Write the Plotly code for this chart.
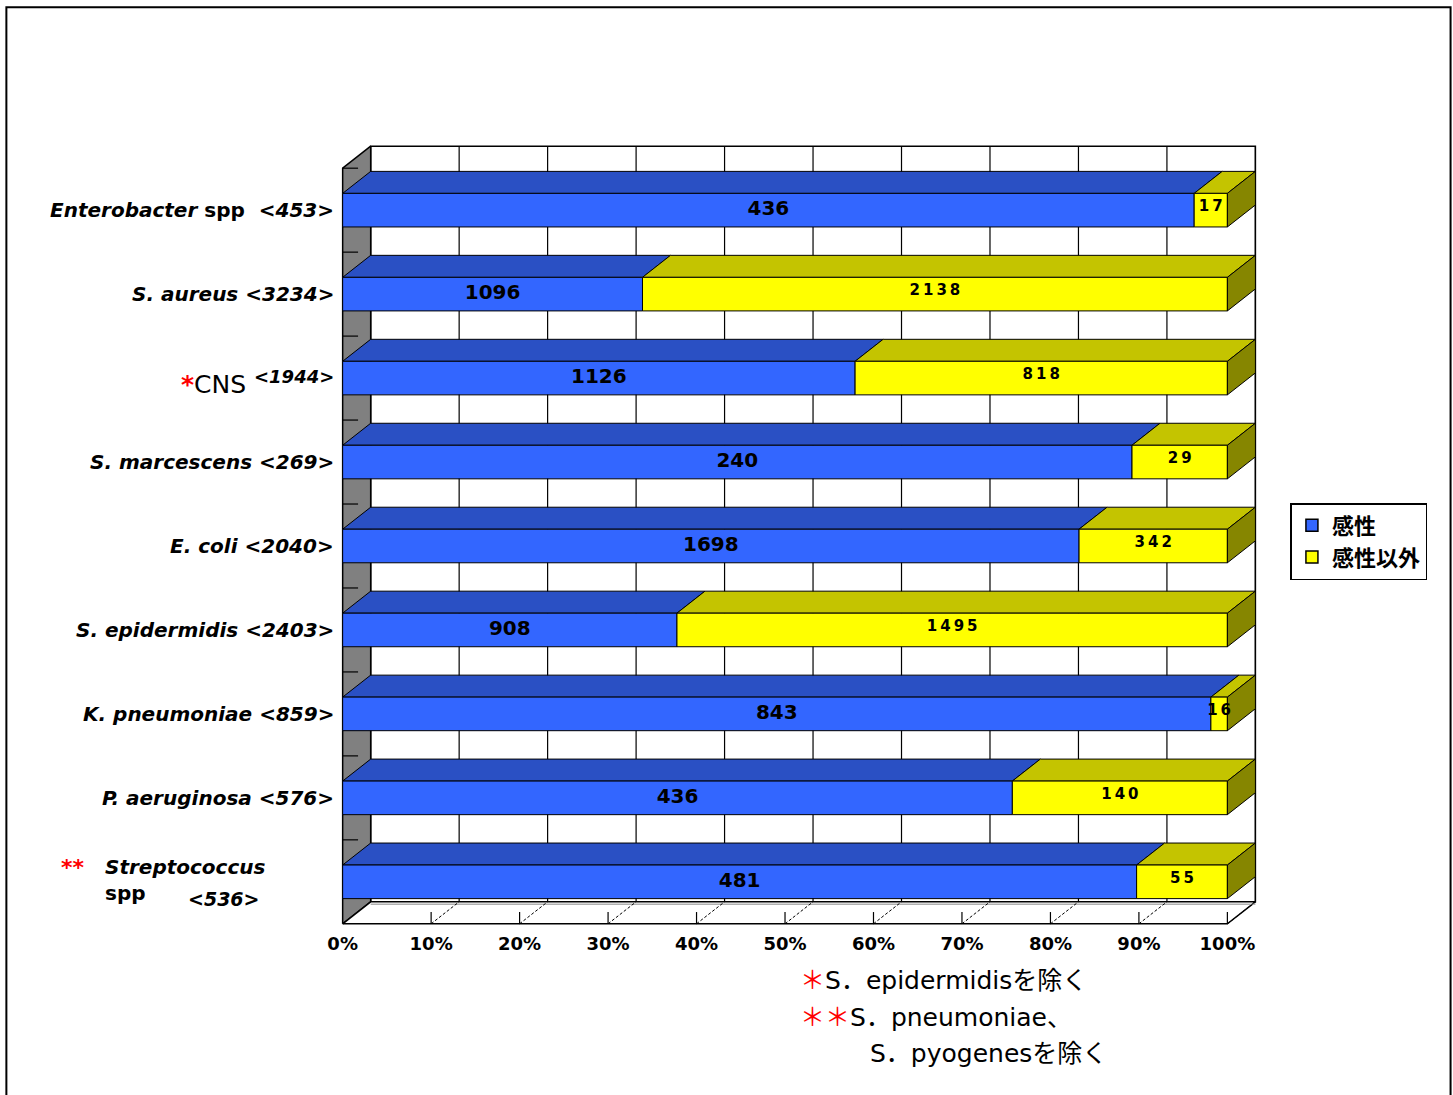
import plotly.graph_objects as go

# ---------------- data ----------------
genus = ["Enterobacter", "S. aureus", "CNS", "S. marcescens", "E. coli",
         "S. epidermidis", "K. pneumoniae", "P. aeruginosa", "Streptococcus"]
suffix = ["spp", "", "", "", "", "", "", "", "spp"]
marks = ["", "", "*", "", "", "", "", "", "**"]
susceptible = [436, 1096, 1126, 240, 1698, 908, 843, 436, 481]
non_susceptible = [17, 2138, 818, 29, 342, 1495, 16, 140, 55]
series_names = ["感性", "感性以外"]
x_ticks = [0, 10, 20, 30, 40, 50, 60, 70, 80, 90, 100]
notes = ["S．epidermidisを除く", "S．pneumoniae、", "S．pyogenesを除く"]

# ---------------- styling / geometry ----------------
W, H = 1453, 1095
PX_X = 8.84          # pixels per percent
PX_Y = 84.0          # pixels per category step
DX = 28 / PX_X       # depth offset, x units
DY = 22 / PX_Y       # depth offset, y units
HALF = 0.2           # half bar thickness
X_RANGE = [-0.3, 103.8]
Y_RANGE = [-0.55, 8.8]
ORIGIN_X = 343
ORIGIN_Y = 882

plot_l = ORIGIN_X + X_RANGE[0] * PX_X
plot_w = (X_RANGE[1] - X_RANGE[0]) * PX_X
plot_t = ORIGIN_Y - Y_RANGE[1] * PX_Y
plot_h = (Y_RANGE[1] - Y_RANGE[0]) * PX_Y


def paper_x(px):
    return (px - plot_l) / plot_w


def paper_y(py):
    return (plot_t + plot_h - py) / plot_h


BLUE_FRONT = "#3366FF"
BLUE_TOP = "#2A50C4"
YEL_FRONT = "#FFFF00"
YEL_TOP = "#C4C400"
YEL_SIDE = "#868600"
WALL = "#808080"
LABEL_FONT = "DejaVu Sans"
CJK_FONT = "Noto Sans CJK JP"
NOTE_FONT = "DejaVu Sans, Noto Sans CJK JP"

n = len(susceptible)
ypos = [n - 1 - i for i in range(n)]
totals = [s + u for s, u in zip(susceptible, non_susceptible)]
pct_s = [s / t * 100 for s, t in zip(susceptible, totals)]

Y_LO = -0.5
Y_HI = n - 0.5


def add_poly(xs, ys, pts):
    for px, py in pts:
        xs.append(px)
        ys.append(py)
    xs.append(pts[0][0])
    ys.append(pts[0][1])
    xs.append(None)
    ys.append(None)


def poly_trace(xs, ys, fill, width=1, dash="solid"):
    return go.Scatter(x=xs, y=ys, mode="lines", fill="toself", fillcolor=fill,
                      line=dict(color="black", width=width, dash=dash),
                      hoverinfo="skip", showlegend=False)


def line_trace(xs, ys, width=1, dash="solid", color="black"):
    return go.Scatter(x=xs, y=ys, mode="lines",
                      line=dict(color=color, width=width, dash=dash),
                      hoverinfo="skip", showlegend=False)


fig = go.Figure()

# back wall
bx, by = [], []
add_poly(bx, by, [(DX, Y_LO + DY), (100 + DX, Y_LO + DY),
                  (100 + DX, Y_HI + DY), (DX, Y_HI + DY)])
fig.add_trace(poly_trace(bx, by, "white", width=1.5))

# vertical gridlines on the back wall
gx, gy = [], []
for t in x_ticks[1:]:
    gx += [t + DX, t + DX, None]
    gy += [Y_LO + DY, Y_HI + DY, None]
fig.add_trace(line_trace(gx, gy, width=1.2))

# left side wall
lx, ly = [], []
add_poly(lx, ly, [(0, Y_LO), (0, Y_HI), (DX, Y_HI + DY), (DX, Y_LO + DY)])
fig.add_trace(poly_trace(lx, ly, WALL, width=1.5))

# category ticks on the side wall
tx, ty = [], []
for k in range(n):
    tx += [0, DX * 0.55, None]
    ty += [k + 0.5, k + 0.5, None]
fig.add_trace(line_trace(tx, ty, width=1.2))

# floor
fx, fy = [], []
add_poly(fx, fy, [(0, Y_LO), (100, Y_LO), (100 + DX, Y_LO + DY), (DX, Y_LO + DY)])
fig.add_trace(poly_trace(fx, fy, "white", width=1.5))
# soft second edge along the back of the floor
fig.add_trace(line_trace([DX, 100 + DX], [Y_LO + DY - 0.03, Y_LO + DY - 0.03],
                         width=1.5, color="#B0B0B0"))

# floor ticks and receding dashed lines
vx, vy, dxs, dys = [], [], [], []
for t in x_ticks[1:]:
    vx += [t, t, None]
    vy += [Y_LO, Y_LO + 0.14, None]
    dxs += [t, t + DX, None]
    dys += [Y_LO, Y_LO + DY, None]
fig.add_trace(line_trace(vx, vy, width=1.2))
fig.add_trace(line_trace(dxs, dys, width=1, dash="3px,2px"))

# bars: top faces, front faces, side faces
top_b = ([], [])
top_y = ([], [])
front_b = ([], [])
front_y = ([], [])
side_y = ([], [])
for i in range(n):
    y = ypos[i]
    segs = [(0, pct_s[i], top_b, front_b), (pct_s[i], 100, top_y, front_y)]
    for x0, x1, top, front in segs:
        add_poly(top[0], top[1], [(x0, y + HALF), (x1, y + HALF),
                                  (x1 + DX, y + HALF + DY), (x0 + DX, y + HALF + DY)])
        add_poly(front[0], front[1], [(x0, y - HALF), (x1, y - HALF),
                                      (x1, y + HALF), (x0, y + HALF)])
    add_poly(side_y[0], side_y[1], [(100, y - HALF), (100 + DX, y - HALF + DY),
                                    (100 + DX, y + HALF + DY), (100, y + HALF)])

fig.add_trace(poly_trace(*top_b, BLUE_TOP))
fig.add_trace(poly_trace(*top_y, YEL_TOP))
fig.add_trace(poly_trace(*front_b, BLUE_FRONT))
fig.add_trace(poly_trace(*front_y, YEL_FRONT))
fig.add_trace(poly_trace(*side_y, YEL_SIDE))

# value labels
fig.add_trace(go.Scatter(
    x=[p / 2 for p in pct_s], y=ypos, mode="text",
    text=[str(v) for v in susceptible],
    textfont=dict(family=LABEL_FONT, size=20, color="black", weight="bold"),
    hoverinfo="skip", showlegend=False))
fig.add_trace(go.Scatter(
    x=[(p + 100) / 2 for p in pct_s], y=[v + 0.035 for v in ypos], mode="text",
    text=["\u2009".join(str(v)) for v in non_susceptible],
    textfont=dict(family=LABEL_FONT, size=15, color="black", weight="bold"),
    hoverinfo="skip", showlegend=False))

# legend entries
for name, col in zip(series_names, [BLUE_FRONT, YEL_FRONT]):
    fig.add_trace(go.Bar(x=[None], y=[None], orientation="h", name=name,
                         marker=dict(color=col, line=dict(color="black", width=1.5))))

# category labels
annotations = []
label_x = paper_x(336)
for i in range(n):
    y = ypos[i]
    count = f"&lt;{totals[i]}&gt;"
    if marks[i] == "*":
        annotations.append(dict(
            x=label_x, y=y, xref="paper", yref="y", xanchor="right", yanchor="middle",
            yshift=2, showarrow=False, text=f"<b><i>{count}</i></b>",
            font=dict(family=LABEL_FONT, size=18, color="black")))
        annotations.append(dict(
            x=paper_x(248), y=y, xref="paper", yref="y", xanchor="right", yanchor="middle",
            yshift=-6, showarrow=False,
            text=f"<span style='color:red'><b>{marks[i]}</b></span>{genus[i]}",
            font=dict(family=LABEL_FONT, size=25, color="black")))
    elif marks[i] == "**":
        annotations.append(dict(
            x=paper_x(60), y=y, xref="paper", yref="y", xanchor="left", yanchor="middle",
            yshift=14, showarrow=False, text=f"<b>{marks[i]}</b>",
            font=dict(family=LABEL_FONT, size=22, color="red")))
        annotations.append(dict(
            x=paper_x(104), y=y, xref="paper", yref="y", xanchor="left", yanchor="middle",
            yshift=2, showarrow=False, align="left",
            text=f"<b><i>{genus[i]}</i><br>{suffix[i]}</b>",
            font=dict(family=LABEL_FONT, size=20, color="black")))
        annotations.append(dict(
            x=paper_x(186), y=y, xref="paper", yref="y", xanchor="left", yanchor="middle",
            yshift=-17, showarrow=False, text=f"<b><i>{count}</i></b>",
            font=dict(family=LABEL_FONT, size=19, color="black")))
    else:
        sfx = f" {suffix[i]}\u00a0" if suffix[i] else ""
        annotations.append(dict(
            x=label_x, y=y, xref="paper", yref="y", xanchor="right", yanchor="middle",
            showarrow=False, text=f"<b><i>{genus[i]}</i>{sfx} <i>{count}</i></b>",
            font=dict(family=LABEL_FONT, size=20, color="black")))

# footnotes
note_font = dict(family=NOTE_FONT, size=25, color="black")
annotations.append(dict(
    x=paper_x(798), y=paper_y(981), xref="paper", yref="paper", xanchor="left",
    yanchor="middle", showarrow=False, font=note_font,
    text=f"<span style='color:red'>＊</span>{notes[0]}"))
annotations.append(dict(
    x=paper_x(798), y=paper_y(1018), xref="paper", yref="paper", xanchor="left",
    yanchor="middle", showarrow=False, font=note_font,
    text=f"<span style='color:red'>＊＊</span>{notes[1]}"))
annotations.append(dict(
    x=paper_x(868), y=paper_y(1054), xref="paper", yref="paper", xanchor="left",
    yanchor="middle", showarrow=False, font=note_font, text=notes[2]))

fig.update_layout(
    width=W, height=H,
    margin=dict(l=plot_l, r=W - plot_l - plot_w, t=plot_t, b=H - plot_t - plot_h, pad=0),
    paper_bgcolor="white", plot_bgcolor="rgba(0,0,0,0)",
    showlegend=True,
    legend=dict(x=paper_x(1290), y=paper_y(503), xanchor="left", yanchor="top",
                bgcolor="white", bordercolor="black", borderwidth=1.5,
                font=dict(family=CJK_FONT, size=22, color="black", weight="bold"),
                traceorder="normal", tracegroupgap=2),
    annotations=annotations,
    shapes=[dict(type="rect", xref="paper", yref="paper",
                 x0=paper_x(7), x1=paper_x(1450), y0=paper_y(1102), y1=paper_y(7),
                 line=dict(color="black", width=2), fillcolor="rgba(0,0,0,0)")],
)
fig.update_xaxes(type="linear", range=X_RANGE, tickvals=x_ticks,
                 ticktext=[f"{t}%" for t in x_ticks], showgrid=False, zeroline=False,
                 showline=False, ticks="", ticklabelstandoff=3,
                 tickfont=dict(family=LABEL_FONT, size=18, color="black", weight="bold"))
fig.update_yaxes(type="linear", range=Y_RANGE, showgrid=False, zeroline=False,
                 showline=False, showticklabels=False, ticks="")

fig.write_html("out.html")
